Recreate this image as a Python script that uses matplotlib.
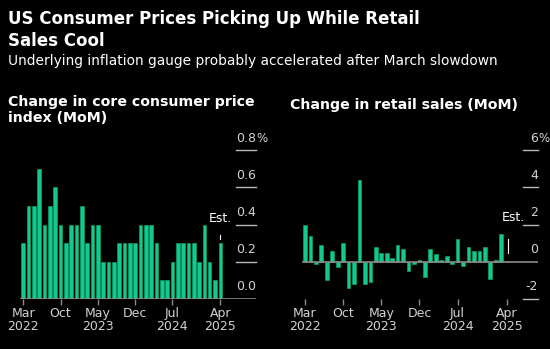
import matplotlib.pyplot as plt
import numpy as np

# Monthly data, Mar 2022 .. Apr 2025 (last value is the estimate)
core_cpi = [0.3, 0.5, 0.5, 0.7, 0.4, 0.5, 0.6, 0.4, 0.3, 0.4,
            0.4, 0.5, 0.3, 0.4, 0.4, 0.2, 0.2, 0.2, 0.3, 0.3,
            0.3, 0.3, 0.4, 0.4, 0.4, 0.3, 0.1, 0.1, 0.2, 0.3,
            0.3, 0.3, 0.3, 0.2, 0.4, 0.2, 0.1, 0.3]
retail = [2.0, 1.4, -0.1, 0.9, -1.0, 0.6, -0.3, 1.0, -1.4, -1.2,
          4.4, -1.2, -1.1, 0.8, 0.5, 0.5, 0.2, 0.9, 0.7, -0.5,
          -0.1, 0.1, -0.8, 0.7, 0.4, 0.1, 0.3, -0.1, 1.2, -0.2,
          0.8, 0.6, 0.6, 0.8, -0.9, 0.1, 1.5, 0.0]

tick_idx = [0, 7, 14, 21, 28, 37]
tick_labels = ["Mar\n2022", "Oct", "May\n2023", "Dec", "Jul\n2024", "Apr\n2025"]

cpi_ticks = [0.0, 0.2, 0.4, 0.6, 0.8]
cpi_tick_labels = ["0.0", "0.2", "0.4", "0.6", "0.8"]
retail_ticks = [-2, 0, 2, 4, 6]
retail_tick_labels = ["-2", "0", "2", "4", "6"]

GREEN = "#14c98b"
EDGE = "#0a9e6c"
LABEL = "#d2d2d2"
LINE = "#8a8a8a"

plt.rcParams['font.family'] = ['DejaVu Sans']

fig = plt.figure(figsize=(5.5, 3.49), dpi=100)
fig.patch.set_facecolor("black")

fig.text(8 / 550, 1 - 19 / 349, "US Consumer Prices Picking Up While Retail",
         color="white", fontsize=12, fontweight="bold", va="center")
fig.text(8 / 550, 1 - 41.5 / 349, "Sales Cool",
         color="white", fontsize=12, fontweight="bold", va="center")
fig.text(8 / 550, 1 - 61.5 / 349,
         "Underlying inflation gauge probably accelerated after March slowdown",
         color="white", fontsize=9.95, va="center")
fig.text(8 / 550, 1 - 102 / 349, "Change in core consumer price",
         color="white", fontsize=10.2, fontweight="bold", va="center")
fig.text(8 / 550, 1 - 118 / 349, "index (MoM)",
         color="white", fontsize=10.2, fontweight="bold", va="center")
fig.text(290 / 550, 1 - 105.5 / 349, "Change in retail sales (MoM)",
         color="white", fontsize=10.2, fontweight="bold", va="center")

x = np.arange(len(core_cpi))


def style(ax):
    ax.set_facecolor("black")
    for s in ax.spines.values():
        s.set_visible(False)
    ax.set_yticks([])
    ax.set_xticks(tick_idx)
    ax.set_xticklabels(tick_labels, color=LABEL, fontsize=9, linespacing=1.0)
    ax.tick_params(axis="x", colors=LINE, labelcolor=LABEL, length=4,
                   width=1, pad=2)


def right_labels(ax, ticks, labels, x0, x1, baseline):
    for v, lab in zip(ticks, labels):
        if v != baseline:
            ax.plot([x0, x1], [v, v], color="#b8b8b8", lw=1, clip_on=False)
        ax.annotate(lab, (x1, v), xytext=(0, 6.2), textcoords="offset points",
                    ha="right", va="baseline", color=LABEL, fontsize=9,
                    annotation_clip=False)
    ax.annotate("%", (x1, ticks[-1]), xytext=(0, 6.2),
                textcoords="offset points", ha="left", va="baseline",
                color=LABEL, fontsize=8.5, annotation_clip=False)


# Left panel: core CPI
ax1 = fig.add_axes([20.1 / 550, 50 / 349, 235.9 / 550, 158.1 / 349])
style(ax1)
ax1.bar(x, core_cpi, width=0.68, color=GREEN, edgecolor=EDGE, linewidth=0.5)
ax1.set_xlim(-0.6, 43.7)
ax1.set_ylim(0, 0.85)
ax1.axhline(0, color=LINE, lw=1.2, zorder=3)
right_labels(ax1, cpi_ticks, cpi_tick_labels, 40.0, 43.7, 0.0)
ax1.text(37, 0.435, "Est.", color="white", fontsize=9, ha="center",
         va="center")
ax1.plot([37, 37], [0.325, 0.345], color="white", lw=0.8)

# Right panel: retail sales
ax2 = fig.add_axes([301.7 / 550, 50 / 349, 236.3 / 550, 158.1 / 349])
style(ax2)
ax2.bar(x, retail, width=0.68, color=GREEN, edgecolor=EDGE, linewidth=0.5)
ax2.set_xlim(-0.6, 42.75)
ax2.set_ylim(-2, 6.5)
ax2.plot([-0.45, 42.75], [0, 0], color=LINE, lw=1.2, zorder=3)
right_labels(ax2, retail_ticks, retail_tick_labels, 40.0, 42.75, 0)
ax2.text(38.2, 2.37, "Est.", color="white", fontsize=9, ha="center",
         va="center")
ax2.plot([37.2, 37.2], [0.48, 1.24], color="white", lw=0.8)

fig.savefig("out.png", dpi=100, facecolor="black")
